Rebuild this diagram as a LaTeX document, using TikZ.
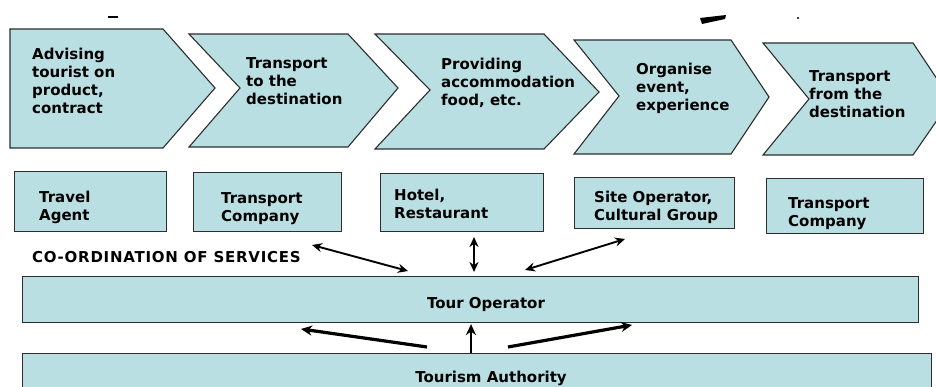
\documentclass[tikz,border=0pt]{standalone}
\usepackage{fontspec}
\setmainfont{DejaVu Sans}
\usetikzlibrary{calc, arrows.meta, positioning}

\definecolor{panel}{RGB}{185,223,227}
\definecolor{edge}{RGB}{45,45,45}

\tikzset{
  stage/.style={fill=panel, draw=edge, line width=1.1pt},
  unit/.style={stage, rectangle, inner sep=0pt, anchor=north west},
  lbl/.style={inner sep=0pt, anchor=north west, align=left, font=\fontsize{15}{18}\selectfont\bfseries},
  link/.style={{Stealth[length=10pt,width=9pt]}-{Stealth[length=10pt,width=9pt]}, line width=1.9pt},
  feed/.style={-{Stealth[length=11pt,width=10pt]}, line width=3.2pt},
}

\begin{document}
\begin{tikzpicture}[x=1pt, y=-1pt]
  \useasboundingbox (0,0) rectangle (936,387);
  \clip (0,0) rectangle (936,387);

  % stray marks of the scan
  \fill (108,16) rectangle (118,18);
  \fill (700,18) -- (726,15) -- (725,19) -- (702,24) -- cycle;
  \fill (798,18) circle (1.2);

  % stages of the chain
  \filldraw [stage] (10,29) -- (163,29) -- (215,88) -- (163,148) -- (10,148) -- cycle;
  \filldraw [stage] (189,34) -- (348,34) -- (398,88) -- (348,147) -- (189,147) -- (240,88) -- cycle;
  \filldraw [stage] (375,34) -- (544,34) -- (599,92) -- (544,149) -- (375,149) -- (430,90) -- cycle;
  \filldraw [stage] (574,40) -- (731,40) -- (769,97) -- (731,154) -- (574,154) -- (619,96) -- cycle;
  \filldraw [stage] (763,43) -- (913,43) -- (951,100) -- (913,155) -- (763,155) -- (809,99) -- cycle;

  \node [lbl] (advise) at (32,48) {Advising\\tourist on\\product,\\contract};
  \node [lbl] (toward) at (246,57) {Transport\\to the\\destination};
  \node [lbl] (accom) at (441,58) {Providing\\accommodation\\food, etc.};
  \node [lbl] (event) at (636,63) {Organise\\event,\\experience};
  \node [lbl] (back) at (809,70) {Transport\\from the\\destination};

  % service providers
  \node [unit, minimum width=152pt, minimum height=60pt] (agent) at (14,171) {};
  \node [unit, minimum width=148pt, minimum height=59pt] (carrier) at (193,172) {};
  \node [unit, minimum width=163pt, minimum height=58pt] (hotel) at (380,173) {};
  \node [unit, minimum width=160pt, minimum height=51pt] (site) at (574,177) {};
  \node [unit, minimum width=157pt, minimum height=55pt] (return) at (766,178) {};

  \node [lbl] (agentlbl) at ($(agent.north west)+(25,20)$) {Travel\\Agent};
  \node [lbl] (carrierlbl) at ($(carrier.north west)+(28,20)$) {Transport\\Company};
  \node [lbl] (hotellbl) at ($(hotel.north west)+(14,16)$) {Hotel,\\Restaurant};
  \node [lbl] (sitelbl) at ($(site.north west)+(20,14)$) {Site Operator,\\Cultural Group};
  \node [lbl] (returnlbl) at ($(return.north west)+(22,19)$) {Transport\\Company};

  \node [lbl, font=\fontsize{15}{18}\selectfont\bfseries\addfontfeatures{LetterSpace=5}] (coord) at (32,251) {CO-ORDINATION OF SERVICES};

  % operator and authority
  \node [unit, minimum width=896pt, minimum height=46pt] (tour) at (22,276) {};
  \node [unit, minimum width=909pt, minimum height=50pt] (auth) at (22,353) {};
  \node [lbl, anchor=center] (tourlbl) at (486,304) {Tour Operator};
  \node [lbl, anchor=center] (authlbl) at (491,378) {Tourism Authority};

  % co-ordination arrows
  \coordinate (a1) at (312,245);
  \coordinate (a2) at (408,271);
  \coordinate (b1) at (474,237);
  \coordinate (b2) at (474,272);
  \coordinate (c1) at (625,239);
  \coordinate (c2) at (525,270);
  \draw [link] (a1) -- (a2);
  \draw [link, line width=2.5pt] (b1) -- (b2);
  \draw [link] (c1) -- (c2);

  % support from the authority
  \coordinate (d1) at (427,347);
  \coordinate (d2) at (301,329);
  \coordinate (f1) at (508,347);
  \coordinate (f2) at (632,325);
  \coordinate (up) at (471,0);
  \draw [feed] (d1) -- (d2);
  \draw [feed, line width=2.2pt, shorten >=1pt] (up |- auth.north) -- (up |- tour.south);
  \draw [feed] (f1) -- (f2);
\end{tikzpicture}
\end{document}
